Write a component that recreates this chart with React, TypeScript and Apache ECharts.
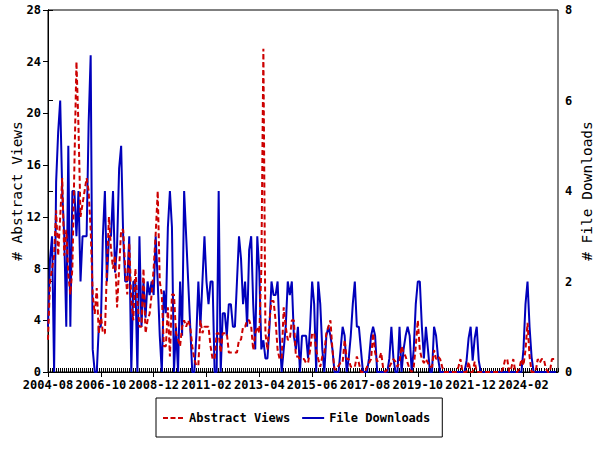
import React, { useEffect, useRef } from "react";
import * as echarts from "echarts";

const START_YEAR = 2004;
const START_MONTH = 8;
const MONTH_SPAN = 251;
const tickMonths = [0, 26, 52, 78, 104, 130, 156, 182, 208, 234];

const abstractViews = [
  2.5, 7, 8, 9, 12.5, 9, 12, 15, 9, 11, 7.5, 6,
  8, 16, 24, 19, 12, 13, 14, 15, 14, 11, 6, 4.5,
  6.5, 3, 4.5, 3, 3, 8, 12, 9.5, 8, 9, 5, 8,
  11, 11, 8, 6, 10, 5.5, 4, 8, 5.5, 3.5, 3.5, 8,
  3, 4, 4.5, 6, 8, 10.7, 14, 7, 6, 2, 2, 5,
  1.2, 6, 6, 3, 2.5, 2, 3.5, 4, 3.5, 4, 3.5, 2,
  1, 0.5, 0.5, 4, 3, 3.5, 3.5, 3.5, 2, 1, 1, 3,
  3, 1.5, 3, 3, 3, 1.5, 1.5, 1.5, 1.5, 1.5, 2.5, 2.5,
  3.5, 3.5, 4, 4, 3.5, 1.7, 3, 3.5, 3, 8, 25, 3,
  1.7, 4, 5.5, 5.5, 4, 1.7, 1, 1, 5, 3.5, 2.5, 2.5,
  4, 4, 1.2, 1.2, 1, 1, 1, 0.7, 0.7, 1.7, 3, 3,
  1.7, 1, 0.4, 1.2, 1.5, 3, 3.5, 4, 1.7, 0.2, 0.2, 0.5,
  0.7, 0.7, 2.5, 1, 1, 0.4, 0.4, 0.4, 1.2, 0.7, 0, 0,
  0, 0.4, 0.7, 1, 3, 1.5, 0.8, 1, 1.5, 0.2, 0, 0.2,
  0.4, 0.7, 1, 0.8, 0.4, 0.8, 2, 1.5, 1.2, 0.7, 0.2, 0,
  0.4, 2, 4, 1.7, 1, 0.7, 1, 0.7, 0.4, 0.4, 1.7, 1,
  1.2, 1, 0.4, 0, 0, 0, 0, 0, 0, 0, 0.4, 1,
  0, 0, 0, 0.8, 0, 0, 0.8, 0, 0, 0, 0, 0,
  0, 0, 0, 0, 0, 0, 0, 0, 0.3, 1, 1, 0,
  0.3, 1, 0, 0, 0.3, 1, 0.5, 1.7, 3.8, 1.2, 0, 0,
  0, 1, 0.7, 1, 1, 0.3, 0, 0, 1, 1, 1,
];

const fileDownloads = [
  1, 2.5, 3, 0, 4.2, 5.3, 6, 4, 3, 1, 5, 1,
  4, 4, 3, 4, 2, 3, 3, 3, 5.5, 7, 0.5, 0,
  0, 1, 1, 3, 4, 2, 3, 3, 4, 2.2, 2.8, 4.5,
  5, 3, 2, 2, 3, 0, 2, 2, 0, 3, 1, 2,
  1.2, 2, 1.7, 2, 1.7, 3, 2, 0.8, 0, 1.8, 1.3, 3.2,
  4, 3.2, 0, 1, 0, 2, 0.8, 4, 3, 2, 1, 0,
  0, 0.8, 2, 1, 2, 3, 2, 1.5, 2, 2, 0, 0,
  4, 0, 1.3, 1.3, 0.8, 1.5, 1.5, 1, 1, 2, 3, 2.5,
  1.5, 2, 1, 2.7, 3, 1.5, 0.5, 3, 2.2, 0.5, 0.7, 0.3,
  0.3, 1, 2, 1.7, 1.7, 2, 0.8, 0, 0.5, 1, 2, 1.7,
  2, 0.8, 0.5, 1, 0, 0.8, 0.8, 0.8, 0.3, 1, 2, 1.5,
  0, 2, 1.5, 0.5, 0, 0.8, 1, 0.8, 0.5, 0, 0, 0,
  0.5, 1, 0.8, 0, 0.3, 0.8, 1.5, 2, 1, 1, 0.5, 0,
  0, 0, 0.3, 0.8, 1, 0.8, 0, 0, 0, 0, 0, 0,
  0.3, 1, 0.3, 0, 0, 1, 0, 0.5, 0.8, 1, 0.8, 0,
  0.5, 1.5, 2, 2, 1, 0.3, 1, 0.5, 0, 0, 1, 0.8,
  0.3, 0, 0, 0, 0, 0, 0, 0, 0, 0, 0, 0,
  0, 0, 0.25, 0.75, 1, 0.25, 0.75, 1, 0.25, 0, 0, 0,
  0, 0, 0, 0, 0, 0, 0, 0, 0, 0, 0, 0,
  0, 0, 0, 0, 0, 0, 0.5, 1.5, 2, 1, 0.33, 0,
  0, 0, 0, 0, 0, 0, 0, 0, 0, 0, 0,
];

const FONT = "'DejaVu Sans Mono', monospace";
const RED = "#cc0000";
const BLUE = "#0000bb";

function monthLabel(i: number): string {
  const m = START_MONTH - 1 + Math.round(i);
  const y = START_YEAR + Math.floor(m / 12);
  const mm = (m % 12) + 1;
  return `${y}-${mm < 10 ? "0" + mm : mm}`;
}

export default function App() {
  const ref = useRef<HTMLDivElement>(null);

  useEffect(() => {
    if (!ref.current) return;
    const chart = echarts.init(ref.current, undefined, { renderer: "svg" });
    const allMonths: number[] = [];
    for (let i = 0; i <= MONTH_SPAN; i++) allMonths.push(i);

    const labelStyle = { fontFamily: FONT, fontWeight: "bold" as const, fontSize: 12, color: "#000" };
    const nameStyle = { fontFamily: FONT, fontWeight: "normal" as const, fontSize: 14.5, color: "#000" };

    chart.setOption({
      animation: false,
      backgroundColor: "#fff",
      grid: {
        left: 48,
        right: 42,
        top: 10,
        bottom: 78,
        show: true,
        borderColor: "#000",
        borderWidth: 1,
        backgroundColor: "transparent",
        containLabel: false,
        outerBoundsMode: "none",
      },
      legend: {
        data: [
          {
            name: "Abstract Views",
            icon: "path://M0,0h5v2h-5z M7.5,0h5v2h-5z M15,0h5v2h-5z",
            itemStyle: { color: RED, borderWidth: 0 },
          },
          {
            name: "File Downloads",
            icon: "rect",
            itemStyle: { color: BLUE, borderWidth: 0 },
          },
        ],
        left: 156,
        top: 398,
        orient: "horizontal",
        borderColor: "#000",
        borderWidth: 1,
        padding: [13, 12, 12, 7],
        itemWidth: 22,
        itemHeight: 2,
        itemGap: 12,
        itemStyle: { borderWidth: 0 },
        textStyle: { ...labelStyle, lineHeight: 14 },
      },
      xAxis: [
        {
          type: "value",
          min: 0,
          max: MONTH_SPAN,
          position: "bottom",
          axisLine: { show: true, lineStyle: { color: "#000", width: 1 } },
          axisTick: { show: true, customValues: tickMonths, length: 5, lineStyle: { color: "#000" } },
          axisLabel: {
            customValues: tickMonths,
            formatter: (v: number) => monthLabel(v),
            margin: 7,
            ...labelStyle,
          },
          splitLine: { show: false },
        },
        {
          type: "value",
          min: 0,
          max: MONTH_SPAN,
          position: "bottom",
          axisLine: { show: false },
          axisTick: { show: true, inside: true, customValues: allMonths, length: 4, lineStyle: { color: "#000" } },
          axisLabel: { show: false },
          splitLine: { show: false },
        },
      ],
      yAxis: [
        {
          type: "value",
          min: 0,
          max: 28,
          interval: 4,
          position: "left",
          name: "# Abstract Views",
          nameLocation: "middle",
          nameGap: 24,
          nameRotate: 90,
          nameMoveOverlap: false,
          nameTextStyle: nameStyle,
          axisLine: { show: true, lineStyle: { color: "#000" } },
          axisTick: { show: true, length: 5, lineStyle: { color: "#000" } },
          axisLabel: { margin: 7, ...labelStyle },
          splitLine: { show: false },
        },
        {
          type: "value",
          min: 0,
          max: 8,
          interval: 2,
          position: "right",
          name: "# File Downloads",
          nameLocation: "middle",
          nameGap: 21,
          nameRotate: 90,
          nameMoveOverlap: false,
          nameTextStyle: nameStyle,
          axisLine: { show: true, lineStyle: { color: "#000" } },
          axisTick: { show: true, length: 5, lineStyle: { color: "#000" } },
          axisLabel: { margin: 7, ...labelStyle },
          splitLine: { show: false },
        },
      ],
      series: [
        {
          name: "File Downloads",
          type: "line",
          xAxisIndex: 0,
          yAxisIndex: 1,
          symbol: "none",
          data: fileDownloads.map((v, i) => [i, v]),
          lineStyle: { color: BLUE, width: 2 },
          itemStyle: { color: BLUE },
        },
        {
          name: "Abstract Views",
          type: "line",
          xAxisIndex: 0,
          yAxisIndex: 0,
          symbol: "none",
          data: abstractViews.map((v, i) => [i, v]),
          lineStyle: { color: RED, width: 2, type: [5, 3] },
          itemStyle: { color: RED },
        },
      ],
    });
    return () => chart.dispose();
  }, []);

  return (
    <div
      ref={ref}
      style={{ position: "fixed", left: 0, top: 0, width: 600, height: 450, background: "#fff" }}
    />
  );
}
